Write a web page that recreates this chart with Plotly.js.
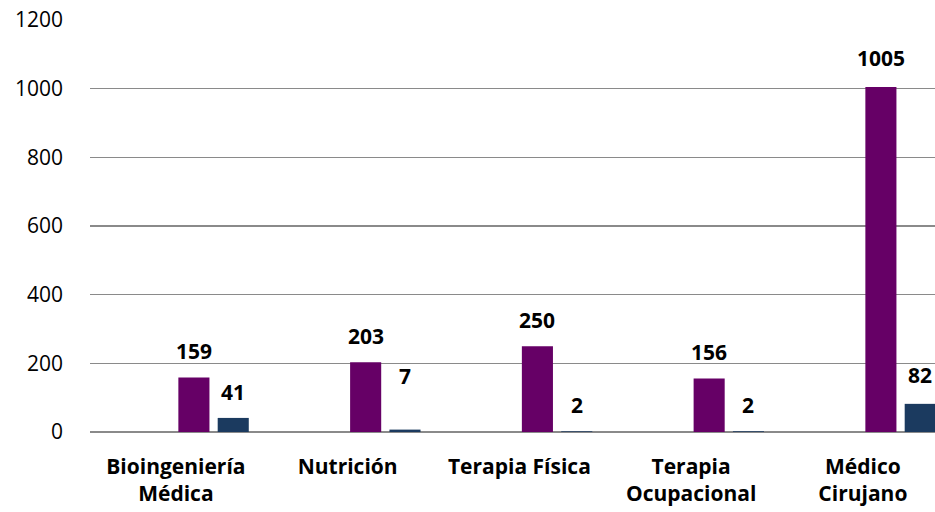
<!DOCTYPE html>
<html>
<head>
<meta charset="utf-8">
<script src="https://cdn.plot.ly/plotly-3.0.1.min.js"></script>
<style>
html,body{margin:0;padding:0;background:#fff;}
#chart{width:935px;height:512px;}
</style>
</head>
<body>
<div id="chart"></div>
<script>
const categories = ["Bioingeniería<br>Médica", "Nutrición", "Terapia Física", "Terapia<br>Ocupacional", "Médico<br>Cirujano"];
const seriesA = [159, 203, 250, 156, 1005];
const seriesB = [41, 7, 2, 2, 82];
const yTicks = [0, 200, 400, 600, 800, 1000, 1200];
const labelExtraShiftB = [0, 28, 0, 0, 3];
const labelExtraShiftA = [0, 0, 0, 0, 3];

const colorA = "#660066";
const colorB = "#1b3a5f";
const barWidth = 0.181;
const offsetA = 0.0145;
const offsetB = 0.2435;
const pxPerCat = 171.75;

const traces = [
  {type: "bar", x: categories, y: seriesA, marker: {color: colorA}, width: barWidth, offset: offsetA, hoverinfo: "none"},
  {type: "bar", x: categories, y: seriesB, marker: {color: colorB}, width: barWidth, offset: offsetB, hoverinfo: "none"}
];

const annotations = [];
const fnt = {family: "Open Sans, Lato, sans-serif", size: 21, color: "#000", weight: "bold"};
categories.forEach((c, i) => {
  annotations.push({x: c, y: seriesA[i], xref: "x", yref: "y", text: String(seriesA[i]), showarrow: false,
    xshift: (offsetA + barWidth / 2) * pxPerCat, yshift: 26 + labelExtraShiftA[i], font: fnt});
  annotations.push({x: c, y: seriesB[i], xref: "x", yref: "y", text: String(seriesB[i]), showarrow: false,
    xshift: (offsetB + barWidth / 2) * pxPerCat, yshift: 26 + labelExtraShiftB[i], font: fnt});
});

const layout = {
  width: 935, height: 512,
  margin: {l: 90, r: 0, t: 20, b: 80},
  paper_bgcolor: "#fff", plot_bgcolor: "#fff",
  showlegend: false,
  barmode: "group",
  xaxis: {
    type: "category", range: [-0.5, 4.42], showgrid: false, zeroline: false, showline: false,
    ticks: "", ticklabelstandoff: 20,
    tickfont: {family: "Open Sans, Lato, sans-serif", size: 21, color: "#000", weight: "bold"}
  },
  yaxis: {
    range: [0, 1200], tickvals: yTicks, ticktext: yTicks.map(String),
    showgrid: true, gridcolor: "#8a8a8a", gridwidth: 1.6,
    zeroline: true, zerolinecolor: "#8a8a8a", zerolinewidth: 1.6,
    showline: false, ticks: "", ticklabelstandoff: 26,
    tickfont: {family: "Open Sans, Lato, sans-serif", size: 21, color: "#000"}
  },
  annotations: annotations
};

Plotly.newPlot("chart", traces, layout, {displayModeBar: false, staticPlot: true});
</script>
</body>
</html>
